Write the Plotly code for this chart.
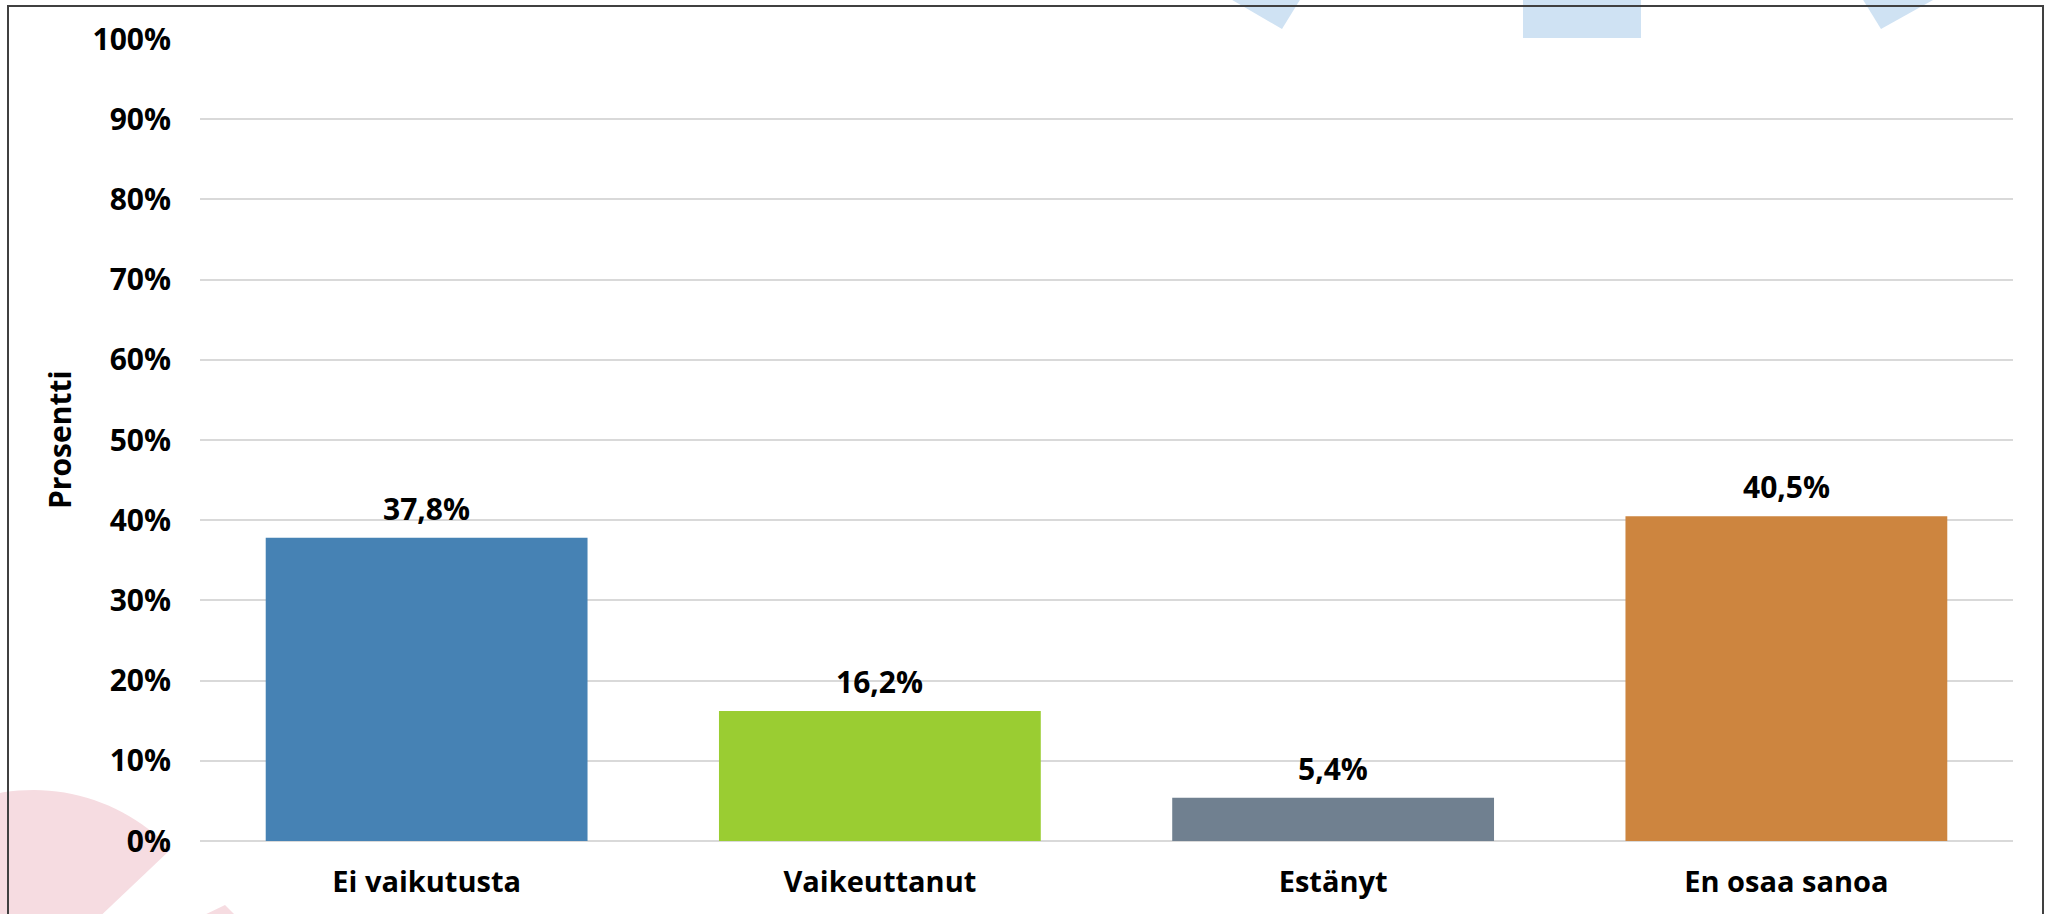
import numpy as np
import plotly.graph_objects as go

# ---- data ----
categories = ["Ei vaikutusta", "Vaikeuttanut", "Estänyt", "En osaa sanoa"]
values = [37.8, 16.2, 5.4, 40.5]
bar_colors = ["#4682B4", "#9ACD32", "#708090", "#CD853F"]
y_title = "Prosentti"

# ---- geometry helpers (pixel -> paper) ----
W, H = 2052, 914
ML, MR, MT, MB = 200, 39, 39, 73
PW, PH = W - ML - MR, H - MT - MB


def px(x):
    return (x - ML) / PW


def py(y):
    return (H - MB - y) / PH


def path_from(points, close=True):
    s = "M " + " L ".join(f"{px(x):.5f},{py(y):.5f}" for x, y in points)
    return s + (" Z" if close else "")


FONT = "Open Sans"
FS = 30

fig = go.Figure()
fig.add_trace(go.Bar(
    x=categories,
    y=values,
    marker=dict(color=bar_colors, line=dict(width=0)),
    width=0.71,
    hoverinfo="skip",
))

shapes = []
# decorative pink sector (bottom-left)
cx, cy, r = 33, 980, 190
a0 = np.arctan2(850 - cy, 170 - cx)
angs = np.linspace(a0, -np.pi, 60)
pts = [(cx, cy)] + [(cx + r * np.cos(a), cy + r * np.sin(a)) for a in angs]
shapes.append(dict(type="path", xref="paper", yref="paper", layer="below",
                   path=path_from(pts), fillcolor="#F6DCE1", line=dict(width=0)))
shapes.append(dict(type="path", xref="paper", yref="paper", layer="below",
                   path=path_from([(225, 905), (198, 918), (238, 918)]),
                   fillcolor="#F6DCE1", line=dict(width=0)))
# decorative blue shapes (top)
blue = "#CFE2F3"
shapes.append(dict(type="path", xref="paper", yref="paper", layer="below",
                   path=path_from([(1215, -10), (1306, -10), (1282, 29)]),
                   fillcolor=blue, line=dict(width=0)))
shapes.append(dict(type="path", xref="paper", yref="paper", layer="below",
                   path=path_from([(1523, -10), (1641, -10), (1641, 38), (1523, 38)]),
                   fillcolor=blue, line=dict(width=0)))
shapes.append(dict(type="path", xref="paper", yref="paper", layer="below",
                   path=path_from([(1857, -10), (1951, -10), (1881, 29)]),
                   fillcolor=blue, line=dict(width=0)))
# outer border (no bottom edge visible)
shapes.append(dict(type="path", xref="paper", yref="paper", layer="above",
                   path=path_from([(8, 930), (8, 6), (2043, 6), (2043, 930)], close=False),
                   line=dict(color="#404040", width=2)))

annotations = []
for c, v in zip(categories, values):
    annotations.append(dict(
        x=c, y=v, xref="x", yref="y", text=f"{v:.1f}".replace(".", ",") + "%",
        showarrow=False, yanchor="bottom", yshift=7,
        font=dict(family=FONT, size=FS, color="black", weight="bold"),
    ))
annotations.append(dict(
    x=px(59), y=0.5, xref="paper", yref="paper", text=y_title, textangle=-90,
    showarrow=False, xanchor="center", yanchor="middle",
    font=dict(family=FONT, size=FS, color="black", weight="bold"),
))

fig.update_layout(
    width=W, height=H,
    margin=dict(l=ML, r=MR, t=MT, b=MB, pad=0),
    paper_bgcolor="white", plot_bgcolor="rgba(0,0,0,0)",
    showlegend=False,
    shapes=shapes,
    annotations=annotations,
    font=dict(family=FONT, size=FS, color="black", weight="bold"),
    xaxis=dict(
        showgrid=False, showline=False, ticks="", zeroline=False,
        tickfont=dict(family=FONT, size=29, color="black", weight="bold"),
        ticklabelstandoff=21,
    ),
    yaxis=dict(
        range=[0, 100], dtick=10, tick0=0, ticksuffix="%",
        showgrid=True, gridcolor="#D9D9D9", gridwidth=2,
        zeroline=True, zerolinecolor="#D9D9D9", zerolinewidth=2,
        showline=False, ticks="",
        tickfont=dict(family=FONT, size=FS, color="black", weight="bold"),
        ticklabelstandoff=28,
    ),
)

fig.write_html(
    "out.html",
    config={"displayModeBar": False},
    post_script="document.body.style.margin='0';document.body.style.overflow='hidden';",
)
